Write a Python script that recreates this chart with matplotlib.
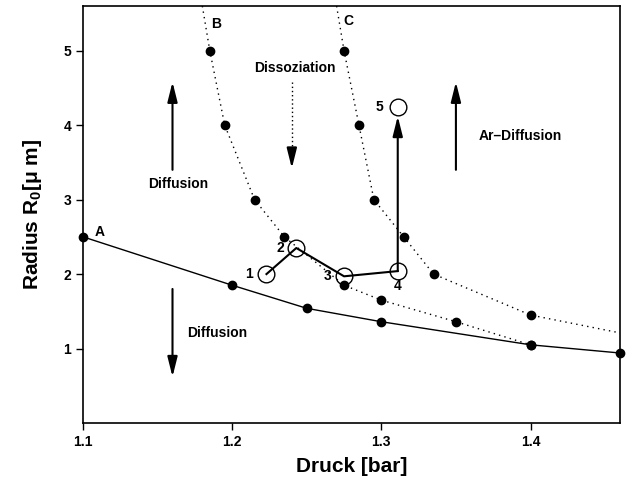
import matplotlib
matplotlib.use("Agg")
import matplotlib.pyplot as plt

plt.rcParams['font.family'] = ['Liberation Sans', 'DejaVu Sans']
plt.rcParams['font.weight'] = 'bold'
plt.rcParams['mathtext.fontset'] = 'custom'
plt.rcParams['mathtext.rm'] = 'Liberation Sans:bold'
plt.rcParams['mathtext.it'] = 'Liberation Sans:bold'
plt.rcParams['mathtext.bf'] = 'Liberation Sans:bold'

# Curve A (solid)
a_x = [1.10, 1.20, 1.25, 1.30, 1.40, 1.46]
a_y = [2.50, 1.85, 1.54, 1.36, 1.05, 0.94]
# Curve B (dotted) - markers
b_x = [1.185, 1.195, 1.215, 1.235, 1.275, 1.30, 1.35, 1.40]
b_y = [5.00, 4.00, 3.00, 2.50, 1.85, 1.65, 1.36, 1.05]
b_top = (1.180, 5.6)
# Curve C (dotted) - markers
c_x = [1.275, 1.285, 1.295, 1.315, 1.335, 1.40]
c_y = [5.00, 4.00, 3.00, 2.50, 2.00, 1.45]
c_top = (1.270, 5.6)
c_end = (1.46, 1.21)
# path points 1..5
p_x = [1.223, 1.243, 1.275, 1.311, 1.311]
p_y = [2.00, 2.35, 1.97, 2.04, 4.24]
p_labels = ['1', '2', '3', '4', '5']

fig = plt.figure(figsize=(6.29, 4.79), dpi=100)
ax = fig.add_axes([83/629, 1 - 423/479, (620-83)/629, (423-6)/479])
ax.set_xlim(1.1, 1.46)
ax.set_ylim(0, 5.6)

ax.plot(a_x, a_y, color='black', lw=1.0)
ax.plot(a_x, a_y, 'o', color='black', ms=6, clip_on=False)

ax.plot([b_top[0]] + b_x, [b_top[1]] + b_y, color='black', lw=1.0, ls=(0, (1, 3)))
ax.plot(b_x, b_y, 'o', color='black', ms=6)
ax.plot([c_top[0]] + c_x + [c_end[0]], [c_top[1]] + c_y + [c_end[1]],
        color='black', lw=1.0, ls=(0, (1, 3)))
ax.plot(c_x, c_y, 'o', color='black', ms=6)

# path 1-4 and arrow 4->5
ax.plot(p_x[:4], p_y[:4], color='black', lw=1.5)
ax.plot(p_x, p_y, 'o', mfc='none', mec='black', ms=12, mew=1.0)
head = '-|>,head_length=1.2,head_width=0.3'
ax.annotate('', xy=(p_x[4], p_y[4] - 0.12), xytext=(p_x[3], p_y[3]),
            arrowprops=dict(arrowstyle=head, color='black', lw=1.5, shrinkA=0, shrinkB=0))
offs = [(-0.012, 0.0), (-0.011, 0.0), (-0.011, 0.0), (0.0, -0.2), (-0.012, 0.0)]
for x, y, t, (dx, dy) in zip(p_x, p_y, p_labels, offs):
    ax.text(x + dx, y + dy, t, ha='center', va='center', fontsize=10, fontweight='bold')

# curve labels
ax.text(1.111, 2.56, 'A', ha='center', va='center', fontsize=10, fontweight='bold')
ax.text(1.189, 5.36, 'B', ha='center', va='center', fontsize=10, fontweight='bold')
ax.text(1.278, 5.40, 'C', ha='center', va='center', fontsize=10, fontweight='bold')

arr = dict(arrowstyle=head, color='black', lw=1.5, shrinkA=0, shrinkB=0)
ax.annotate('', xy=(1.160, 4.58), xytext=(1.160, 3.40), arrowprops=arr)
ax.text(1.164, 3.21, 'Diffusion', ha='center', va='center', fontsize=10, fontweight='bold')
ax.annotate('', xy=(1.160, 0.62), xytext=(1.160, 1.80), arrowprops=arr)
ax.text(1.170, 1.21, 'Diffusion', ha='left', va='center', fontsize=10, fontweight='bold')
ax.annotate('', xy=(1.350, 4.58), xytext=(1.350, 3.40), arrowprops=arr)
ax.text(1.365, 3.85, 'Ar\u2013Diffusion', ha='left', va='center', fontsize=10, fontweight='bold')
# dotted arrow with solid head
ax.plot([1.240, 1.240], [4.58, 3.66], color='black', lw=1.0, ls=(0, (1, 2)))
ax.annotate('', xy=(1.240, 3.42), xytext=(1.240, 3.68),
            arrowprops=dict(arrowstyle=head, color='black', lw=1.5, shrinkA=0, shrinkB=0))
ax.text(1.242, 4.77, 'Dissoziation', ha='center', va='center', fontsize=10, fontweight='bold')

ax.set_xticks([1.1, 1.2, 1.3, 1.4])
ax.set_xticklabels(['1.1', '1.2', '1.3', '1.4'])
ax.set_yticks([1, 2, 3, 4, 5])
ax.set_yticklabels(['1', '2', '3', '4', '5'])
ax.tick_params(direction='out', length=5, width=1, labelsize=10)
for lab in ax.get_xticklabels() + ax.get_yticklabels():
    lab.set_fontweight('bold')
for s in ax.spines.values():
    s.set_linewidth(1.2)

ax.set_xlabel('Druck [bar]', fontsize=15, fontweight='bold', labelpad=6)
ax.set_ylabel(r'Radius R$_0$[$\mu$ m]', fontsize=15, fontweight='bold', labelpad=14)

fig.savefig('out.png', dpi=100)
